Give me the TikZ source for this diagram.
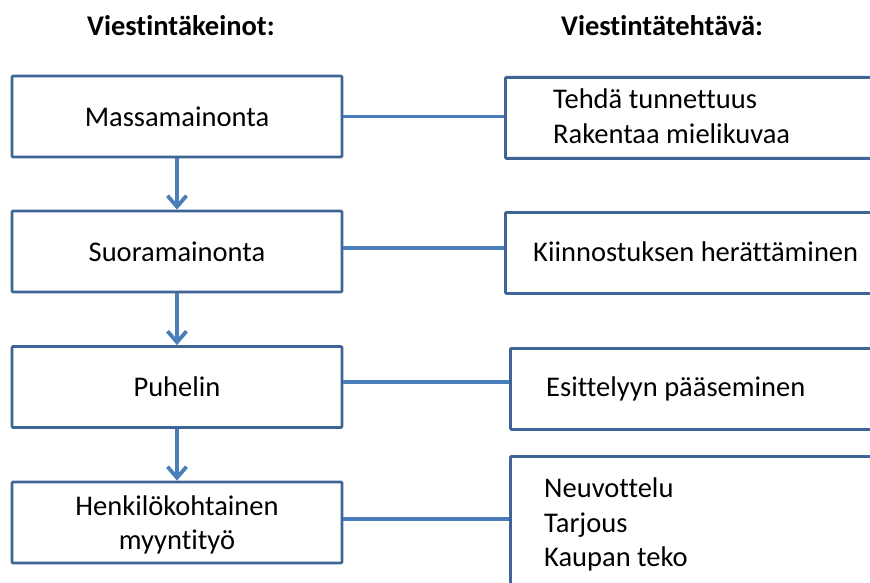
\documentclass[tikz,border=0pt]{standalone}
\usepackage{fontspec}
\setmainfont[Ligatures=NoCommon]{Carlito}
\usetikzlibrary{arrows.meta}
\definecolor{edgeblue}{HTML}{3F6597}
\definecolor{linkblue}{HTML}{4A7EBB}
\begin{document}
\begin{tikzpicture}[x=1pt,y=-1pt,
  every node/.style={font=\fontsize{28.5}{34.5}\selectfont, text=black},
  lbox/.style={draw=edgeblue, line width=2.8pt, rounded corners=1pt, fill=white,
               minimum width=330pt, minimum height=81pt, align=center, inner sep=0pt},
  rbox/.style={draw=edgeblue, line width=2.8pt, rounded corners=1pt, fill=white,
               anchor=north west, minimum width=420pt, inner sep=0pt},
  rtext/.style={anchor=base west, align=left, inner sep=0pt},
  head/.style={anchor=base west, inner sep=0pt, font=\fontsize{28.5}{34}\selectfont\bfseries},
  flow/.style={draw=linkblue, line width=3.8pt, -{Straight Barb[length=11pt,width=19pt,line width=3.8pt]}},
  link/.style={draw=linkblue, line width=3.8pt}]
\useasboundingbox (0,0) rectangle (870,583);

% column headings
\node[head] (h1) at (87,36) {Viestintäkeinot:};
\node[head] (h2) at (561,36) {Viestintätehtävä:};

% communication means
\node[lbox] (l1) at (177,116.5) {Massamainonta};
\node[lbox] (l2) at (177,251.5) {Suoramainonta};
\node[lbox] (l3) at (177,387) {Puhelin};
\node[lbox, text depth=0pt] (l4) at (177,522.5) {Henkilökohtainen\\myyntityö};

% communication tasks (boxes run past the right edge)
\node[rbox, minimum height=81pt] (r1) at (504,76) {};
\node[rbox, minimum height=81pt] (r2) at (504,211) {};
\node[rbox, minimum height=81pt] (r3) at (509,347) {};
\node[rbox, minimum height=160pt] (r4) at (509,455) {};

% task texts, each placed by the baseline of its last line
\node[rtext] (t1) at (553,143.3) {Tehdä tunnettuus\\Rakentaa mielikuvaa};
\node[rtext] (t2) at (533,261.7) {Kiinnostuksen herättäminen};
\node[rtext] (t3) at (546,396.7) {Esittelyyn pääseminen};
\node[rtext] (t4) at (544,566.7) {Neuvottelu\\Tarjous\\Kaupan teko};

% flow between means
\draw[flow] (l1.south) -- (l2.north);
\draw[flow] (l2.south) -- (l3.north);
\draw[flow] (l3.south) -- (l4.north);

% links to tasks
\draw[link] (l1.east) -- (l1.east -| r1.west);
\draw[link] ([yshift=3.5pt]l2.east) -- ([yshift=3.5pt]l2.east -| r2.west);
\draw[link] ([yshift=5pt]l3.east) -- ([yshift=5pt]l3.east -| r3.west);
\draw[link] ([yshift=3.5pt]l4.east) -- ([yshift=3.5pt]l4.east -| r4.west);
\end{tikzpicture}
\end{document}
